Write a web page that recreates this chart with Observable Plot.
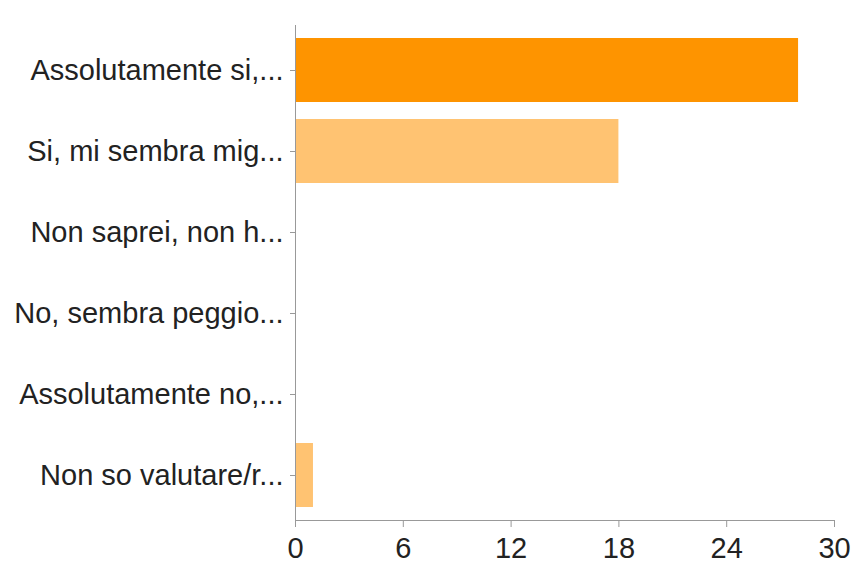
<!DOCTYPE html>
<html>
<head>
<meta charset="utf-8">
<script src="https://cdn.jsdelivr.net/npm/d3@7"></script>
<script src="https://cdn.jsdelivr.net/npm/@observablehq/plot@0.6"></script>
<style>
  html, body { margin: 0; padding: 0; background: #fff; }
  #chart svg { display: block; }
</style>
</head>
<body>
<div id="chart"></div>
<script>
const categories = [
  "Assolutamente si,...",
  "Si, mi sembra mig...",
  "Non saprei, non h...",
  "No, sembra peggio...",
  "Assolutamente no,...",
  "Non so valutare/r..."
];
const counts = [28, 18, 0, 0, 0, 1];
const xTicks = [0, 6, 12, 18, 24, 30];
const highlight = "Assolutamente si,...";

const data = categories.map((c, i) => ({category: c, count: counts[i]}));

const chart = Plot.plot({
  width: 854,
  height: 567,
  marginLeft: 295,
  marginRight: 20,
  marginTop: 25,
  marginBottom: 47,
  style: {fontFamily: "'Liberation Sans', Arial, sans-serif", background: "#fff"},
  x: {domain: [0, 30], ticks: xTicks},
  y: {domain: categories, paddingInner: 0.205, paddingOuter: 0.128},
  marks: [
    Plot.barX(data, {
      y: "category",
      x: "count",
      fill: d => d.category === highlight ? "#fe9400" : "#ffc372"
    }),
    Plot.axisX({
      ticks: xTicks,
      tickSize: 7,
      tickPadding: 10,
      stroke: "#999",
      fill: "#222",
      fontSize: 29,
      label: null
    }),
    Plot.axisY({
      tickSize: 5,
      tickPadding: 7,
      stroke: "#999",
      fill: "#222",
      fontSize: 29,
      label: null
    }),
    Plot.frame({anchor: "bottom", stroke: "#999"}),
    Plot.frame({anchor: "left", stroke: "#999"})
  ]
});
document.getElementById("chart").appendChild(chart);
</script>
</body>
</html>
